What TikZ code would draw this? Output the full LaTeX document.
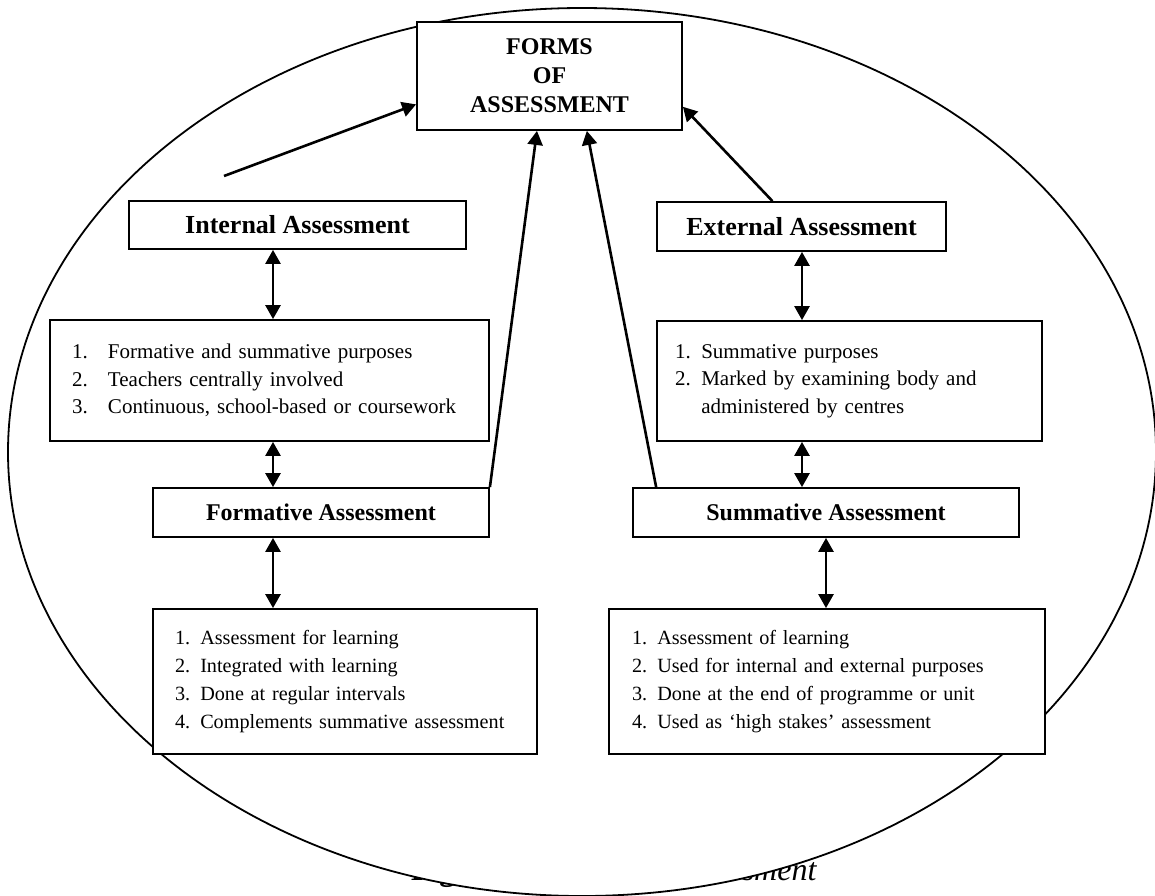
\documentclass[tikz,border=0pt]{standalone}
\usepackage{fontspec}
\setmainfont{Liberation Serif}
\usetikzlibrary{arrows.meta, calc}
\newcommand{\numtab}[1]{\makebox[18pt][l]{#1}}

\begin{document}
\begin{tikzpicture}[x=0.5pt, y=-0.5pt,
    headbox/.style={draw, line width=0.9pt, fill=white, inner sep=0pt, align=center},
    listbox/.style={draw, line width=0.9pt, fill=white, inner ysep=0pt, align=left,
                    font=\fontsize{10.5}{13.8}\selectfont},
    lowlist/.style={listbox, font=\fontsize{10.1}{14}\selectfont},
    oneway/.style={-{Triangle[length=7pt, width=7.5pt]}, line width=1.3pt},
    twoway/.style={{Triangle[length=7pt, width=7.5pt]}-{Triangle[length=7pt, width=7.5pt]}, line width=1.3pt}]
  \useasboundingbox (0,0) rectangle (1155,895);
  % caption, mostly hidden by the ellipse
  \node[font=\fontsize{16}{19}\selectfont, anchor=base] (cap) at (614,880)
       {\textbf{Figure 1:} \textit{Forms of Assessment}};
  \draw[line width=0.9pt, fill=white] (582,452) ellipse [x radius=574, y radius=444];

  % heading boxes
  \node[headbox, minimum width=132.5pt, minimum height=54pt,
        font=\bfseries\fontsize{12}{14.5}\selectfont] (forms) at (549.5,76) {FORMS\\OF\\ASSESSMENT};
  \node[headbox, minimum width=168.5pt, minimum height=24pt,
        font=\bfseries\fontsize{13}{15}\selectfont] (int) at (297.5,225) {Internal Assessment};
  \node[headbox, minimum width=144.5pt, minimum height=24.5pt,
        font=\bfseries\fontsize{13}{15}\selectfont] (ext) at (801.5,226.5) {External Assessment};
  \node[headbox, minimum width=168pt, minimum height=24.5pt,
        font=\bfseries\fontsize{12}{14}\selectfont] (form) at (321,512.5) {Formative Assessment};
  \node[headbox, minimum width=193pt, minimum height=24.5pt,
        font=\bfseries\fontsize{12}{14}\selectfont] (summ) at (826,512.5) {Summative Assessment};

  % list boxes
  \node[listbox, inner xsep=11pt, text width=197.5pt, minimum height=60.5pt] (intlist) at (269.5,380.5)
       {\numtab{1.}Formative and summative purposes\\
        \numtab{2.}Teachers centrally involved\\
        \numtab{3.}Continuous, school-based or coursework};
  \node[listbox, inner xsep=9pt, text width=174.5pt, minimum height=60pt] (extlist) at (849.5,381)
       {1. Summative purposes\\
        2. Marked by examining body and\\
        \phantom{2. }administered by centres};
  \node[lowlist, inner xsep=11pt, text width=170pt, minimum height=72.5pt] (formlist) at (345,681.5)
       {1. Assessment for learning\\
        2. Integrated with learning\\
        3. Done at regular intervals\\
        \mbox{4. Complements summative assessment}};
  \node[lowlist, inner xsep=11.5pt, text width=195pt, minimum height=72.5pt] (sumlist) at (827,681.5)
       {1. Assessment of learning\\
        2. Used for internal and external purposes\\
        3. Done at the end of programme or unit\\
        4. Used as `high stakes' assessment};

  % arrows into the top box
  \coordinate (loose) at (224,176);
  \draw[oneway] (loose) -- (forms.192);
  \draw[oneway] (form.north east) -- ($(forms.south west)!0.453!(forms.south east)$);
  \draw[oneway] ($(summ.north west)!0.062!(summ.north east)$) -- ($(forms.south west)!0.64!(forms.south east)$);
  \draw[oneway] ($(ext.north west)!0.4!(ext.north east)$) -- (forms.-13);

  % two-way links down each side
  \coordinate (axL) at (273,0);
  \coordinate (axR) at (802,0);
  \draw[twoway] (int.south -| axL) -- (intlist.north -| axL);
  \draw[twoway] (intlist.south -| axL) -- (form.north -| axL);
  \draw[twoway] (form.south -| axL) -- (formlist.north -| axL);
  \draw[twoway] (ext.south -| axR) -- (extlist.north -| axR);
  \draw[twoway] (extlist.south -| axR) -- (summ.north -| axR);
  \draw[twoway] (summ.south) -- (sumlist.north -| summ.south);
\end{tikzpicture}
\end{document}
